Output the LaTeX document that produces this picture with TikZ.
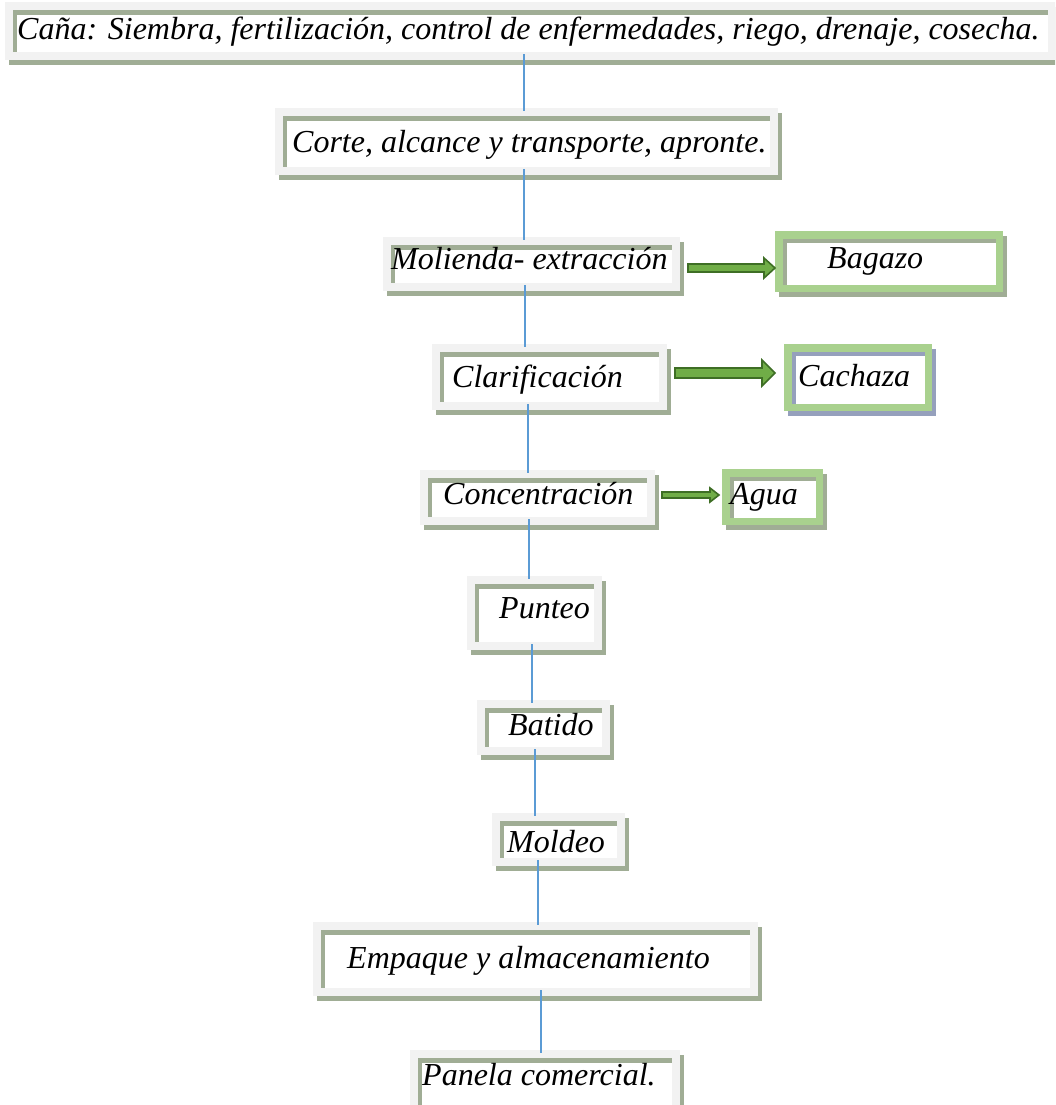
\documentclass[tikz,border=0pt]{standalone}
\usepackage{fontspec}
\setmainfont{Liberation Serif}
\usetikzlibrary{fit,calc}
\definecolor{framec}{HTML}{F2F2F2}
\definecolor{bandc}{HTML}{A0AD95}
\definecolor{bluegrey}{HTML}{95A0BC}
\definecolor{lightgreen}{HTML}{A9D18E}
\definecolor{arrowfill}{HTML}{70AD47}
\definecolor{arrowline}{HTML}{3E6E25}
\definecolor{connc}{HTML}{5B9BD5}
\tikzset{
  lbl/.style={font=\fontsize{32}{38}\selectfont\itshape, inner sep=0pt, anchor=base west},
  conn/.style={draw=connc, line width=1.6pt, shorten <=-6pt, shorten >=-3pt},
  blockarr/.style={fill=arrowfill, draw=arrowline, line width=1.6pt, line join=miter},
  hidden/.style={inner sep=0pt, draw=none}
}
% #1 name, #2 x1, #3 y1, #4 x2, #5 y2, #6 text x, #7 baseline, #8 text
\newcommand\pbox[8]{%
  \fill[bandc] (#2+4,#3+5) rectangle (#4+4,#5+5);
  \fill[framec] (#2,#3) rectangle (#4,#5);
  \fill[white] (#2+8,#3+8) rectangle (#4-8,#5-8);
  \fill[bandc] (#2+8,#3+8) rectangle (#4-8,#3+13);
  \fill[bandc] (#2+8,#3+8) rectangle (#2+12,#5-8);
  \path (#2,#3) coordinate (#1-nw) (#4,#5) coordinate (#1-se);
  \node[hidden, fit=(#1-nw)(#1-se)] (#1) {};
  \node[lbl] (#1-t) at (#6,#7) {#8};
}
% #1 name, #2 x1, #3 y1, #4 x2, #5 y2, #6 text x, #7 baseline, #8 text, #9 band colour
\newcommand\gbox[9]{%
  \fill[#9] (#2+4,#3+5) rectangle (#4+4,#5+5);
  \fill[lightgreen] (#2,#3) rectangle (#4,#5);
  \fill[#9] (#2+8,#3+8) rectangle (#4-7,#5-7);
  \fill[white] (#2+12,#3+12) rectangle (#4-7,#5-7);
  \path (#2,#3) coordinate (#1-nw) (#4,#5) coordinate (#1-se);
  \node[hidden, fit=(#1-nw)(#1-se)] (#1) {};
  \node[lbl] (#1-t) at (#6,#7) {#8};
}
% block arrow: #1 start coord, #2 end coord, #3 half shaft, #4 half head, #5 head length
\newcommand\blockarrow[5]{%
  \draw[blockarr] ($(#1)+(0,-#3)$) -- ($(#2)+(-#5,-#3)$) -- ($(#2)+(-#5,-#4)$) -- (#2)
    -- ($(#2)+(-#5,#4)$) -- ($(#2)+(-#5,#3)$) -- ($(#1)+(0,#3)$) -- cycle;
}
\begin{document}
\begin{tikzpicture}[x=1pt,y=-1pt]
\useasboundingbox (0,0) rectangle (1055,1105);
\clip (0,0) rectangle (1055,1105);
\fill[white] (0,0) rectangle (1055,1105);

\pbox{b1}{5}{2}{1056}{60}{17}{40}{Caña: Siembra, fertilización, control de enfermedades, riego, drenaje, cosecha.}
\pbox{b2}{275}{108}{778}{175}{292}{153}{Corte, alcance y transporte, apronte.}
\pbox{b3}{383}{237}{680}{291}{391}{269}{Molienda- extracción}
\gbox{g1}{775}{231}{1003}{292}{827}{268}{Bagazo}{bandc}
\pbox{b4}{432}{344}{667}{410}{452}{387}{Clarificación}
\gbox{g2}{784}{344}{932}{411}{798}{386}{Cachaza}{bluegrey}
\pbox{b5}{420}{470}{655}{525}{443}{504}{Concentración}
\gbox{g3}{722}{469}{823}{525}{730}{504}{Agua}{bandc}
\pbox{b6}{467}{576}{602}{650}{499}{618}{Punteo}
\pbox{b7}{477}{700}{610}{755}{508}{735}{Batido}
\pbox{b8}{492}{813}{625}{866}{507}{852}{Moldeo}
\pbox{b9}{313}{922}{758}{996}{347}{968}{Empaque y almacenamiento}
\pbox{b10}{410}{1050}{680}{1115}{422}{1085}{Panela comercial.}

% block arrows
\coordinate (a1s) at (688,268); \coordinate (a1e) at (775,268);
\coordinate (a2s) at (675,373); \coordinate (a2e) at (775,373);
\coordinate (a3s) at (662,495); \coordinate (a3e) at (719,495);
\blockarrow{a1s}{a1e}{4}{10}{11}
\blockarrow{a2s}{a2e}{5}{13}{13}
\blockarrow{a3s}{a3e}{3}{7}{9}

% connectors
\coordinate (x1) at (524,0);
\coordinate (x2) at (524,0);
\coordinate (x3) at (525,0);
\coordinate (x4) at (528,0);
\coordinate (x5) at (529,0);
\coordinate (x6) at (532,0);
\coordinate (x7) at (535,0);
\coordinate (x8) at (538,0);
\coordinate (x9) at (541,0);
\draw[conn] (b1.south -| x1) -- (b2.north -| x1);
\draw[conn] (b2.south -| x2) -- (b3.north -| x2);
\draw[conn] (b3.south -| x3) -- (b4.north -| x3);
\draw[conn] (b4.south -| x4) -- (b5.north -| x4);
\draw[conn] (b5.south -| x5) -- (b6.north -| x5);
\draw[conn] (b6.south -| x6) -- (b7.north -| x6);
\draw[conn] (b7.south -| x7) -- (b8.north -| x7);
\draw[conn] (b8.south -| x8) -- (b9.north -| x8);
\draw[conn] (b9.south -| x9) -- (b10.north -| x9);
\end{tikzpicture}
\end{document}
